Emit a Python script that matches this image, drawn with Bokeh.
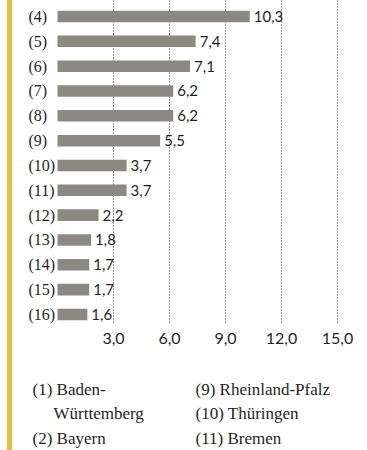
from bokeh.plotting import figure
from bokeh.models import Range1d, FixedTicker, Div, ColumnDataSource
from bokeh.layouts import row, column
from bokeh.core.properties import value
from bokeh.embed import file_html
from bokeh.resources import INLINE

# ---- data ----
categories = ["(4)", "(5)", "(6)", "(7)", "(8)", "(9)", "(10)", "(11)", "(12)", "(13)", "(14)", "(15)", "(16)"]
values = [10.3, 7.4, 7.1, 6.2, 6.2, 5.5, 3.7, 3.7, 2.2, 1.8, 1.7, 1.7, 1.6]
value_labels = ["10,3", "7,4", "7,1", "6,2", "6,2", "5,5", "3,7", "3,7", "2,2", "1,8", "1,7", "1,7", "1,6"]
tick_values = [3, 6, 9, 12, 15]
tick_labels = ["3,0", "6,0", "9,0", "12,0", "15,0"]
legend_col1 = ["(1) Baden-", "Württemberg", "(2) Bayern"]
legend_col1_indent = [0, 21, 0]
legend_col2 = ["(9) Rheinland-Pfalz", "(10) Thüringen", "(11) Bremen"]

# ---- layout constants ----
STRIP_LEFT = 7
STRIP_W = 5
W = 350
FRAME_H = 324
BOTTOM = 30
H_MAIN = FRAME_H + BOTTOM
H_LEG = 96
PPU = 56 / 3.0          # pixels per unit
X0 = 45                 # pixel of value 0 within the frame
ROW = 24.83             # pixels per row
FIRST = 16              # centre of first row from frame top

SERIF = "Liberation Serif"
SANS = "Lato"
TXT = "#1f1f1f"
BAR = "#8c8982"
YELLOW = "#e9c23a"

n = len(categories)
idx = list(range(n))
src = ColumnDataSource(dict(y=idx, v=values, cat=categories, lab=value_labels))

p = figure(width=W, height=H_MAIN, output_backend="svg", toolbar_location=None,
           x_range=Range1d(-X0 / PPU, (W - X0) / PPU),
           y_range=Range1d((FRAME_H - FIRST) / ROW, -FIRST / ROW),
           min_border_left=0, min_border_right=0, min_border_top=0,
           min_border_bottom=BOTTOM)
p.outline_line_color = None
p.background_fill_color = "white"
p.border_fill_color = "white"
p.yaxis.visible = False
p.ygrid.grid_line_color = None

p.xgrid.ticker = FixedTicker(ticks=tick_values)
p.xgrid.grid_line_color = "#222222"
p.xgrid.grid_line_dash = "1 2"
p.xgrid.grid_line_width = 1

xa = p.xaxis[0]
xa.ticker = FixedTicker(ticks=tick_values)
xa.major_label_overrides = {t: l for t, l in zip(tick_values, tick_labels)}
xa.axis_line_color = None
xa.major_tick_line_color = None
xa.minor_tick_line_color = None
xa.major_tick_out = 0
xa.major_tick_in = 0
xa.major_label_text_font = SANS
xa.major_label_text_font_size = "16px"
xa.major_label_text_color = TXT
xa.major_label_standoff = 8

p.hbar(y="y", left=0, right="v", height=0.465, source=src, color=BAR, line_color=None)
p.text(x=0, y="y", text="cat", source=src, x_offset=-29, text_align="left",
       text_baseline="middle", text_font=value(SERIF), text_font_size="16px", text_color=TXT)
p.text(x="v", y="y", text="lab", source=src, x_offset=4, text_align="left",
       text_baseline="middle", text_font=value(SANS), text_font_size="15px", text_color=TXT)

# ---- legend ----
leg = figure(width=W, height=H_LEG, output_backend="svg", toolbar_location=None,
             x_range=Range1d(0, W), y_range=Range1d(H_LEG, 0),
             min_border=0)
leg.outline_line_color = None
leg.axis.visible = False
leg.grid.visible = False
line_y = [35, 59, 84]
leg.text(x=[20 + d for d in legend_col1_indent], y=line_y, text=legend_col1,
         text_align="left", text_baseline="middle", text_font=value(SERIF),
         text_font_size="17px", text_color=TXT)
leg.text(x=[183] * len(legend_col2), y=line_y, text=legend_col2,
         text_align="left", text_baseline="middle", text_font=value(SERIF),
         text_font_size="17px", text_color=TXT)

strip = Div(width=STRIP_W, height=H_MAIN + H_LEG, margin=(0, 0, 0, STRIP_LEFT),
            styles={"background-color": YELLOW})
layout = row(strip, column(p, leg, spacing=0), spacing=0)

open("out.html", "w").write(file_html(layout, INLINE))
